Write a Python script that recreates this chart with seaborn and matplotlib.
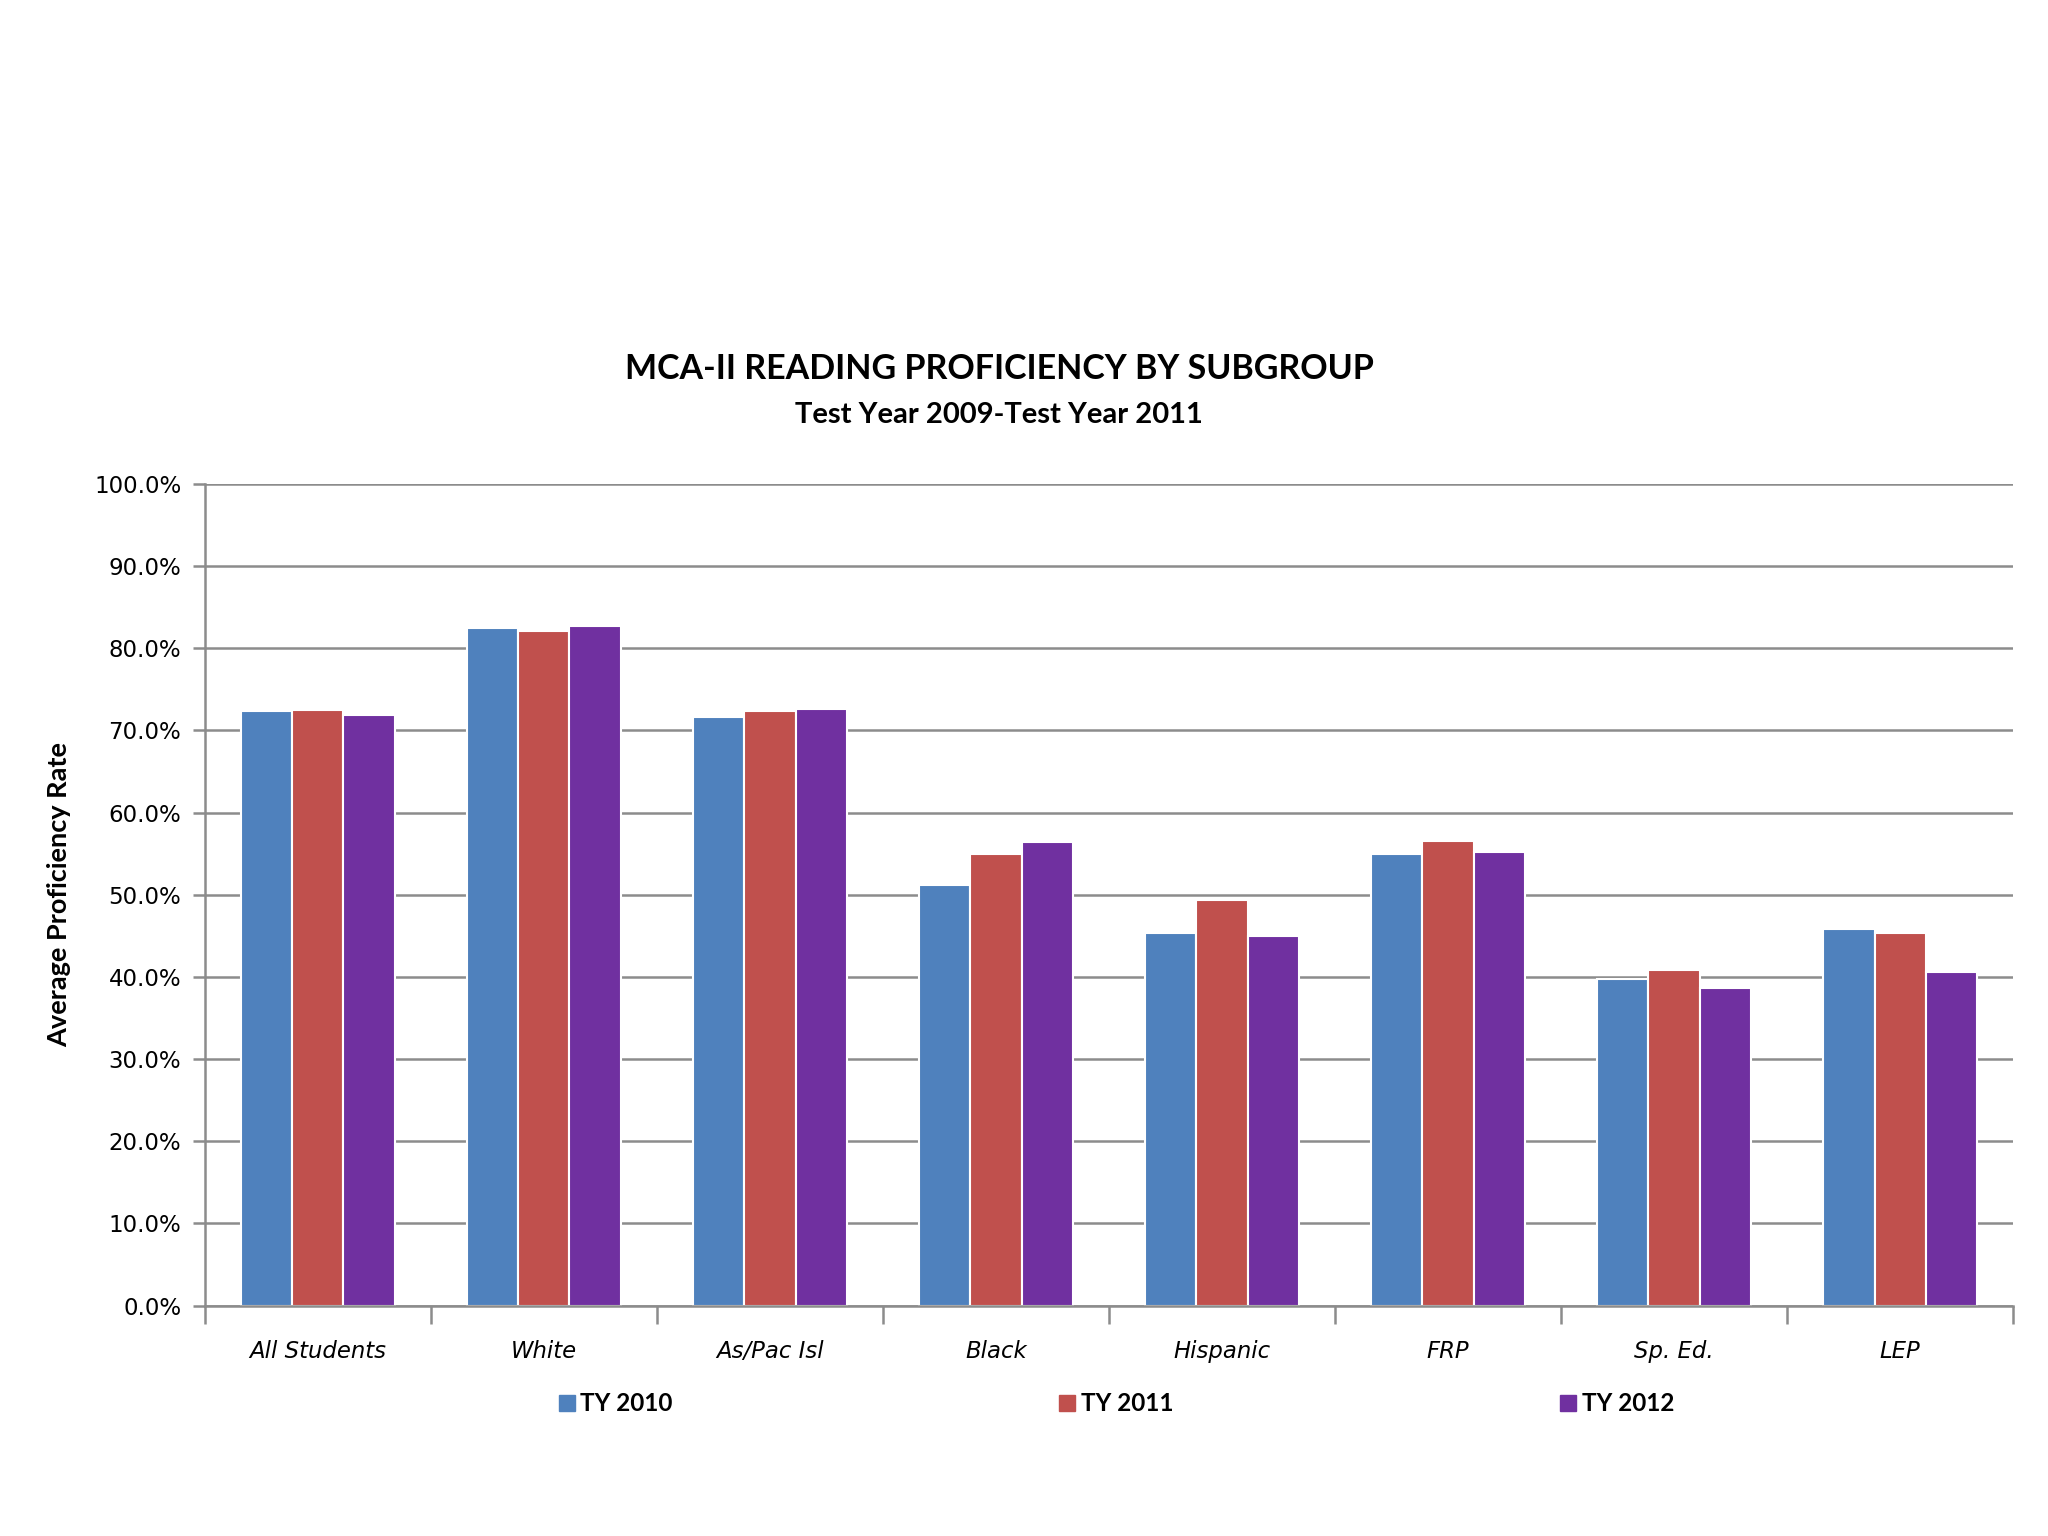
import matplotlib
matplotlib.use("Agg")
import matplotlib.pyplot as plt
import seaborn as sns
import pandas as pd
from matplotlib.lines import Line2D
from matplotlib.ticker import FuncFormatter, FixedLocator

# chart data (percent proficient)
subgroups = ["All Students", "White", "As/Pac Isl", "Black", "Hispanic", "FRP", "Sp. Ed.", "LEP"]
years = ["TY 2010", "TY 2011", "TY 2012"]
ty2010 = [72.3, 82.4, 71.6, 51.2, 45.3, 55.0, 39.8, 45.8]
ty2011 = [72.5, 82.1, 72.3, 55.0, 49.4, 56.5, 40.9, 45.3]
ty2012 = [71.9, 82.7, 72.6, 56.4, 45.0, 55.2, 38.6, 40.6]
colors = ["#4F81BD", "#C0504D", "#7030A0"]

df = pd.DataFrame({
    "subgroup": subgroups * 3,
    "year": [y for y in years for _ in subgroups],
    "rate": ty2010 + ty2011 + ty2012,
})

sns.set_theme(style="white")
plt.rcParams["font.family"] = ["DejaVu Sans"]
plt.rcParams["text.color"] = "black"
plt.rcParams["axes.labelcolor"] = "black"
plt.rcParams["xtick.labelcolor"] = "black"
plt.rcParams["ytick.labelcolor"] = "black"

fig = plt.figure(figsize=(20.48, 15.36), dpi=100)
ax = fig.add_axes([0.100, 0.150, 0.883, 0.535])

sns.barplot(data=df, x="subgroup", y="rate", hue="year", palette=colors, saturation=1,
            width=0.68, edgecolor="white", linewidth=1.5, ax=ax)
ax.get_legend().remove()

grid_c = "#8C8C8C"
ax.set_ylim(0, 100)
ax.set_xlim(-0.5, len(subgroups) - 0.5)
ax.set_yticks(range(0, 101, 10))
ax.yaxis.set_major_formatter(FuncFormatter(lambda v, p: f"{v:.1f}%"))
ax.yaxis.grid(True, color=grid_c, linewidth=1.8)
ax.set_axisbelow(True)

for s in ["top", "right"]:
    ax.spines[s].set_visible(False)
for s in ["left", "bottom"]:
    ax.spines[s].set_color(grid_c)
    ax.spines[s].set_linewidth(1.8)

ax.tick_params(axis="y", length=9, width=1.8, color=grid_c, labelsize=16.5, pad=8, left=True)
ax.tick_params(axis="x", which="major", length=0, labelsize=16.4, pad=25)
ax.xaxis.set_minor_locator(FixedLocator([i - 0.5 for i in range(len(subgroups) + 1)]))
ax.tick_params(axis="x", which="minor", length=13, width=1.8, color=grid_c, bottom=True)
for lab in ax.get_xticklabels():
    lab.set_fontstyle("italic")

ax.set_xlabel("")
ax.set_ylabel("Average Proficiency Rate", fontsize=19.5, fontweight="bold", family="Lato")
ax.yaxis.set_label_coords(-0.074, 0.5)

fig.text(0.488, 0.760, "MCA-II READING PROFICIENCY BY SUBGROUP", ha="center", va="center",
         fontsize=24.5, fontweight="bold", family="Lato")
fig.text(0.488, 0.730, "Test Year 2009-Test Year 2011", ha="center", va="center",
         fontsize=21, fontweight="bold", family="Lato")

handles = [Line2D([], [], marker="s", linestyle="", markersize=12, color=c) for c in colors]
fig.legend(handles, years, loc="center", bbox_to_anchor=(0.545, 0.086), ncol=3,
           frameon=False, prop={"family": "Lato", "weight": "bold", "size": 17.5},
           handlelength=0.7, handletextpad=0.2, columnspacing=15.9)

fig.savefig("out.png", dpi=100)
